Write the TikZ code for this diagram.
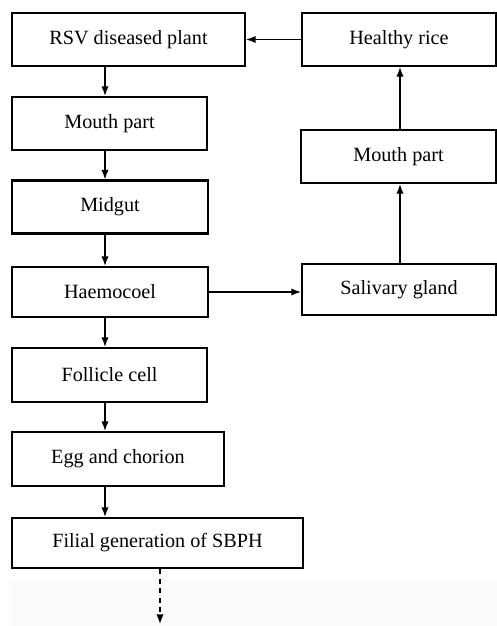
\documentclass[tikz,border=0pt]{standalone}
\usepackage{fontspec}
\setmainfont{Liberation Serif}
\usetikzlibrary{arrows.meta}
\begin{document}
\begin{tikzpicture}[x=0.02cm, y=-0.02cm]
            \tikzstyle{stage}=[draw, line width=1.2pt, inner sep=0pt, font=\fontsize{11.5}{13}\selectfont, minimum height=53*0.02cm]
            \tikzstyle{flow}=[line width=0.85pt, -{Latex[length=5.5pt, width=4.2pt]}]
            \useasboundingbox (0, 0) rectangle (497, 626);
            \fill [black!1.5] (11, 580) rectangle (497, 626);
            \node [stage, minimum width=233*0.02cm] (rsv) at (128.5, 39.5) {RSV diseased plant};
            \node [stage, minimum width=195*0.02cm] (mouthL) at (109.5, 123.5) {Mouth part};
            \node [stage, minimum width=196*0.02cm] (midgut) at (110, 207) {Midgut};
            \node [stage, minimum width=196*0.02cm, minimum height=50*0.02cm] (haemo) at (110, 292) {Haemocoel};
            \node [stage, minimum width=195*0.02cm, minimum height=54*0.02cm] (follicle) at (109.5, 375) {Follicle cell};
            \node [stage, minimum width=212*0.02cm, minimum height=54*0.02cm] (egg) at (118, 459) {Egg and chorion};
            \node [stage, minimum width=291*0.02cm, minimum height=50*0.02cm] (filial) at (157.5, 543) {Filial generation of SBPH};
            \node [stage, minimum width=194*0.02cm] (healthy) at (399, 39.5) {Healthy rice};
            \node [stage, minimum width=195*0.02cm] (mouthR) at (398.5, 156.5) {Mouth part};
            \node [stage, minimum width=194*0.02cm, minimum height=51*0.02cm] (saliv) at (399, 289.5) {Salivary gland};
            \coordinate (axis) at (105, 0);
            \coordinate (raxis) at (400, 0);
            \coordinate (next) at (160, 624);
            \draw [flow] (rsv.south -| axis) -- (mouthL.north -| axis);
            \draw [flow] (mouthL.south -| axis) -- (midgut.north -| axis);
            \draw [flow] (midgut.south -| axis) -- (haemo.north -| axis);
            \draw [flow] (haemo.south -| axis) -- (follicle.north -| axis);
            \draw [flow] (follicle.south -| axis) -- (egg.north -| axis);
            \draw [flow] (egg.south -| axis) -- (filial.north -| axis);
            \draw [flow] (haemo.east) -- (haemo.east -| saliv.west);
            \draw [flow] (saliv.north -| raxis) -- (mouthR.south -| raxis);
            \draw [flow] (mouthR.north -| raxis) -- (healthy.south -| raxis);
            \draw [flow] (healthy.west) -- (rsv.east);
            \draw [flow, dash pattern=on 3pt off 2.4pt] (filial.south -| next) -- (next);
        \end{tikzpicture}
\end{document}
